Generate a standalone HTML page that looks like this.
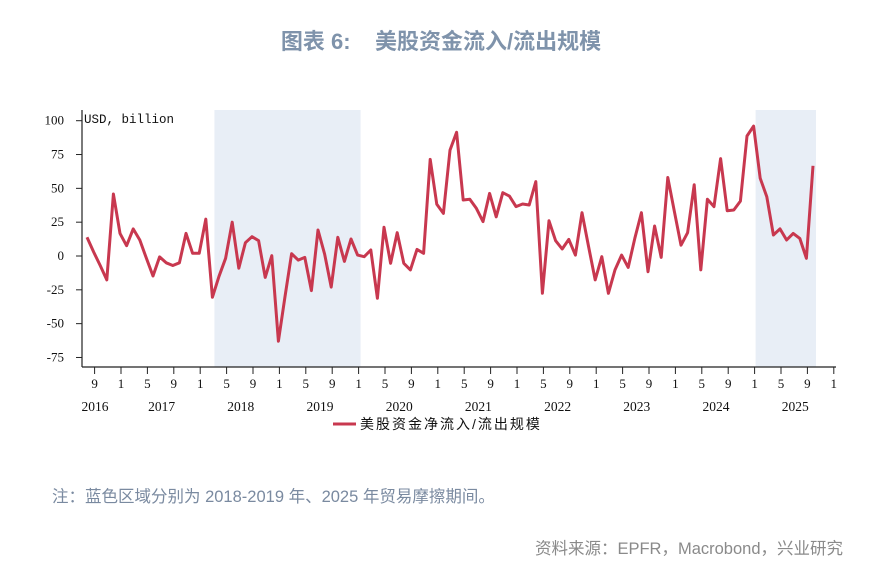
<!DOCTYPE html>
<html><head><meta charset="utf-8">
<style>
html,body{margin:0;padding:0;background:#fff;width:880px;height:577px;overflow:hidden}
svg{display:block}
.cjk{font-family:"Liberation Sans","Noto Sans CJK SC",sans-serif}
.ser{font-family:"Liberation Serif","Noto Serif CJK SC",serif}
</style></head>
<body>
<svg id="chart" width="880" height="577" xmlns="http://www.w3.org/2000/svg">
<text class="cjk" x="441" y="49" text-anchor="middle" font-size="22" font-weight="bold" fill="#7f93ab">图表 6:&#160;&#160;&#160;&#160;美股资金流入/流出规模</text>
<g id="shades"></g>
<g id="axes"></g>
<g id="series"></g>
<text x="84" y="123" font-family="'Liberation Mono',monospace" font-size="12.5" fill="#111">USD, billion</text>
<g>
<line x1="333" y1="424" x2="356" y2="424" stroke="#c8384f" stroke-width="3"/>
<text class="cjk" x="360" y="429" font-size="14" fill="#111" letter-spacing="2">美股资金净流入/流出规模</text>
</g>
<text class="cjk" x="52" y="502" font-size="16.5" fill="#7a8aa0">注：蓝色区域分别为 2018-2019 年、2025 年贸易摩擦期间。</text>
<text class="cjk" x="843" y="554" text-anchor="end" font-size="16.5" fill="#8a8a8a">资料来源：EPFR，Macrobond，兴业研究</text>
</svg>
<script>
const startYear = 2016, startMonth = 8;
const values = [13.8,3,-7,-17.7,45.8,16.7,7.6,20,11.8,-1.7,-14.8,-0.7,-5,-7,-5,16.7,2,2,27.3,-30.5,-15,-1.7,25,-9,9.8,14.3,11.3,-15.8,0.2,-63,-30,1.7,-3,-1,-25.6,19.2,1.5,-23,13.8,-4,12.6,0.7,-0.5,4.4,-31.3,21.2,-5.4,17.2,-5.4,-10.3,4.9,2,71.4,38.2,31.5,78.3,91.4,41.4,42,35.2,25.4,46.3,29,46.8,44.3,36.5,38.4,37.7,55,-27.6,26,11.3,5.2,12.3,0.7,32,6.9,-17.7,-0.5,-27.6,-10.3,0.7,-8.4,13,32,-11.6,22.2,-1,58,32.8,8,17.2,52.7,-10.3,41.9,36.5,72,33.5,34,40.6,88.7,96,57.4,43.8,15.5,20,11.8,16.7,13,-1.7,66.7];
const yTicks = [100,75,50,25,0,-25,-50,-75];
const monthTicks = ["9","1","5","9","1","5","9","1","5","9","1","5","9","1","5","9","1","5","9","1","5","9","1","5","9","1","5","9","1"];
const yearLabels = ["2016","2017","2018","2019","2020","2021","2022","2023","2024","2025"];
const shadePeriods = [[2018,3,2020,1],[2025,1,2025,10]];

const NS="http://www.w3.org/2000/svg";
const M=6.6, X0=121; // Jan 2017 x
function xm(y,m){return X0+((y-2017)*12+(m-1))*M;}
function xs(i){return xm(startYear,startMonth)-1+i*M;}
function yv(v){return 256-v*1.353;}
function mk(tag,attrs,parent){const e=document.createElementNS(NS,tag);for(const k in attrs)e.setAttribute(k,attrs[k]);parent.appendChild(e);return e;}
const sh=document.getElementById('shades'), ax=document.getElementById('axes'), se=document.getElementById('series');
shadePeriods.forEach(p=>{
  const r=mk('rect',{x:xm(p[0],p[1])+1,y:110,width:xm(p[2],p[3])-xm(p[0],p[1])+1,height:257,fill:'#e8eef6'},sh);
  
  
});
const la=mk('line',{x1:82,y1:110,x2:82,y2:367,stroke:'#222','stroke-width':1.2},ax);


const ba=mk('line',{x1:82,y1:367,x2:836,y2:367,stroke:'#222','stroke-width':1.2},ax);


yTicks.forEach(t=>{
  const y=yv(t);
  mk('line',{x1:76,y1:y,x2:82,y2:y,stroke:'#222'},ax);
  const tx=mk('text',{x:64,y:y+4,'text-anchor':'end','font-size':13,class:'ser',fill:'#111'},ax);
  tx.textContent=t;
  
  
});
monthTicks.forEach((t,i)=>{
  const x=xm(2016,9)+i*4*M;
  mk('line',{x1:x,y1:367,x2:x,y2:374,stroke:'#222'},ax);
  const tx=mk('text',{x:x,y:388,'text-anchor':'middle','font-size':13,class:'ser',fill:'#111'},ax);
  tx.textContent=t;
  
  
});
yearLabels.forEach((t,i)=>{
  const x=i===0?95:xm(2017+i-1,7)+1;
  const tx=mk('text',{x:x,y:411,'text-anchor':'middle','font-size':13.5,class:'ser',fill:'#111'},ax);
  tx.textContent=t;
  
  
});
const pts=values.map((v,i)=>xs(i).toFixed(1)+','+yv(v).toFixed(1)).join(' ');
const pl=mk('polyline',{points:pts,fill:'none',stroke:'#c8384f','stroke-width':3,'stroke-linejoin':'round'},se);


</script>
</body></html>
